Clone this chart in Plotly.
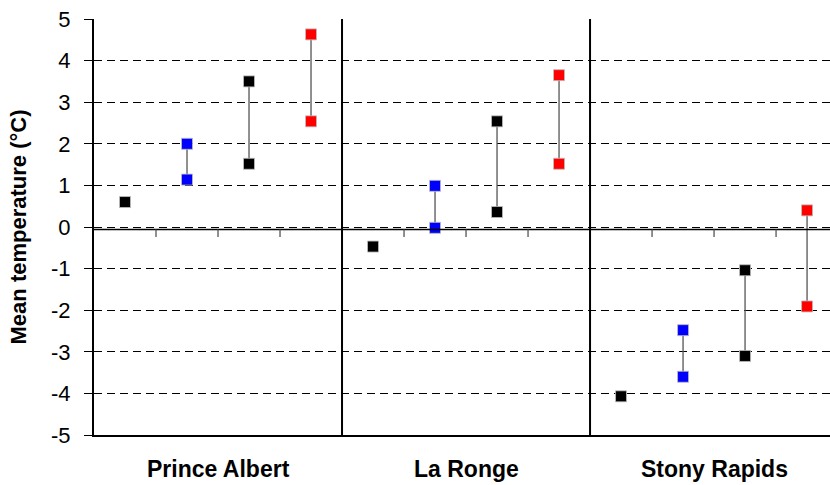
import plotly.graph_objects as go

# Stations and mean temperature (°C) per scenario slot
stations = ["Prince Albert", "La Ronge", "Stony Rapids"]
baseline = [0.60, -0.47, -4.07]
blue_low = [1.14, -0.02, -3.60]
blue_high = [2.00, 0.99, -2.48]
black_low = [1.52, 0.36, -3.10]
black_high = [3.50, 2.54, -1.04]
red_low = [2.54, 1.52, -1.91]
red_high = [4.63, 3.65, 0.40]
y_ticks = list(range(-5, 6))
y_tick_text = [str(v) for v in y_ticks]

slots_per_station = 4
fig = go.Figure()


def slot_x(station_idx, slot):
    return station_idx * slots_per_station + slot + 0.5


# vertical range bars joining low/high values
lx, ly = [], []
for slot, (lo, hi) in enumerate([(blue_low, blue_high), (black_low, black_high), (red_low, red_high)], start=1):
    for i in range(len(stations)):
        lx += [slot_x(i, slot), slot_x(i, slot), None]
        ly += [lo[i], hi[i], None]
fig.add_trace(go.Scatter(x=lx, y=ly, mode="lines", line=dict(color="#555555", width=1.3),
                         hoverinfo="skip", showlegend=False))


def add_markers(values, slot, color):
    fig.add_trace(go.Scatter(
        x=[slot_x(i, slot) for i in range(len(stations))], y=values, mode="markers",
        marker=dict(symbol="square", size=11, color=color,
                    line=dict(color="rgba(190,190,190,0.8)", width=1)),
        showlegend=False))


add_markers(baseline, 0, "#000000")
add_markers(blue_low, 1, "#0000FF")
add_markers(blue_high, 1, "#0000FF")
add_markers(black_low, 2, "#000000")
add_markers(black_high, 2, "#000000")
add_markers(red_low, 3, "#FF0000")
add_markers(red_high, 3, "#FF0000")

n_slots = slots_per_station * len(stations)
# the last slot runs slightly past the right edge of the page
x_max = n_slots - 0.13
shapes = []
# station separators
for k in range(1, len(stations)):
    shapes.append(dict(type="line", xref="x", yref="y", x0=k * slots_per_station, x1=k * slots_per_station,
                       y0=-5, y1=5, line=dict(color="black", width=2)))
# category axis crossing at zero
shapes.append(dict(type="line", xref="x", yref="y", x0=0, x1=x_max, y0=-0.06, y1=-0.06,
                   line=dict(color="black", width=1.5)))
# tick marks on the category axis
for k in range(1, n_slots):
    if k % slots_per_station:
        shapes.append(dict(type="line", xref="x", yref="y", x0=k, x1=k, y0=-0.06, y1=-0.24,
                           line=dict(color="#555555", width=1.3)))

annotations = [dict(x=slot_x(i, 1.5), y=-5, xref="x", yref="y", yshift=-34, text=f"<b>{s}</b>",
                    showarrow=False, font=dict(family="Liberation Sans, Arial", size=23, color="black"))
               for i, s in enumerate(stations)]

fig.update_layout(
    width=830, height=485,
    margin=dict(l=94, r=0, t=19, b=50),
    paper_bgcolor="white", plot_bgcolor="white",
    font=dict(family="Liberation Sans, Arial", size=22, color="black"),
    shapes=shapes, annotations=annotations,
    xaxis=dict(range=[0, x_max], showgrid=False, zeroline=False, showticklabels=False, ticks="",
               showline=True, linecolor="black", linewidth=1.5, mirror=False),
    yaxis=dict(range=[-5, 5], tickvals=y_ticks, ticktext=y_tick_text, ticks="outside", ticklen=8,
               tickwidth=1.3, tickcolor="black", ticklabelstandoff=9,
               showline=True, linecolor="black", linewidth=2,
               showgrid=True, gridcolor="black", gridwidth=1, griddash="8px,5px",
               zeroline=False,
               title=dict(text="<b>Mean temperature (°C)</b>", font=dict(size=22), standoff=18)),
)

fig.write_html("out.html")
